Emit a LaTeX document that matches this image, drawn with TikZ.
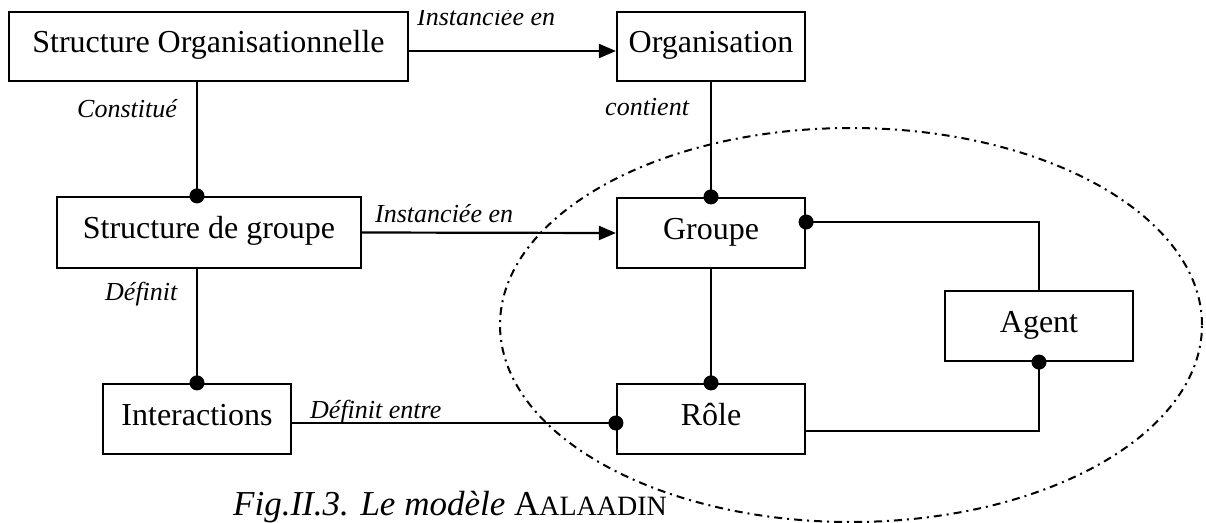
\documentclass[tikz,border=0pt]{standalone}
\usepackage{fontspec}
\setmainfont{Liberation Serif}
\usetikzlibrary{arrows.meta}
\begin{document}
\begin{tikzpicture}[x=1pt,y=-1pt,
  box/.style={draw, line width=2.2pt, minimum width=188pt, minimum height=70pt,
    inner sep=0pt, text height=22pt, text depth=10pt,
    font=\fontsize{32}{36}\selectfont},
  lbl/.style={anchor=base west, inner sep=0pt,
    font=\fontsize{26}{30}\selectfont\itshape},
  conn/.style={line width=2.2pt},
  arrowend/.style={-{Triangle[length=17pt,width=14pt]}},
  dotend/.style={-{Circle[length=15pt]}, shorten >=-7.5pt},
  zone/.style={line width=2pt, dash pattern=on 8pt off 5pt on 2pt off 5pt}
]
\useasboundingbox (0,0) rectangle (1206,522);

% dash-dotted zone around the instance level
\draw[zone] (851,325) ellipse [x radius=351pt, y radius=197pt];

% boxes
\node[box, minimum width=399pt, minimum height=69pt] (so) at (208.5,46.5) {Structure Organisationnelle};
\node[box, minimum height=69pt] (org) at (711,46.5) {Organisation};
\node[box, minimum width=304pt, minimum height=71pt] (sg) at (209,232.5) {Structure de groupe};
\node[box] (gr) at (711,233) {Groupe};
\node[box] (ag) at (1039,326) {Agent};
\node[box] (int) at (197,419) {Interactions};
\node[box] (ro) at (711,419) {Rôle};

% helper rows and columns for connector routing
\coordinate (colA) at (197,0);
\coordinate (rowA) at (0,51);
\coordinate (rowB) at (0,423);
\coordinate (rowC) at (0,222);
\coordinate (rowD) at (0,431);

% connectors
\draw[conn, arrowend] (so.east |- rowA) -- (org.west |- rowA);
\draw[conn, dotend] (so.south -| colA) -- (sg.north -| colA);
\draw[conn, dotend] (org.south) -- (gr.north);
\draw[conn, arrowend] (sg.east) -- (gr.west);
\draw[conn, dotend] (sg.south -| int.north) -- (int.north);
\draw[conn, dotend] (gr.south) -- (ro.north);
\draw[conn, dotend] (int.east |- rowB) -- (ro.west |- rowB);
\draw[conn, dotend] (ag.north) |- (gr.east |- rowC);
\draw[conn, dotend] (ro.east |- rowD) -| (ag.south);

% connector labels
\begin{scope}
  \clip (400,10) rectangle (620,40);
  \node[lbl] (l1) at (417,25) {Instanciée en};
\end{scope}
\node[lbl] (l2) at (605,115) {contient};
\node[lbl] (l3) at (77,117) {Constitué};
\node[lbl] (l4) at (375,222) {Instanciée en};
\node[lbl] (l5) at (105,300) {Définit};
\node[lbl] (l6) at (310,418) {Définit entre};

% caption
\node[anchor=base west, inner sep=0pt, font=\fontsize{35}{40}\selectfont] (cap) at (233,515)
  {\textit{Fig.II.3. Le modèle} A{\fontsize{28}{30}\selectfont ALAADIN}};
\end{tikzpicture}
\end{document}
